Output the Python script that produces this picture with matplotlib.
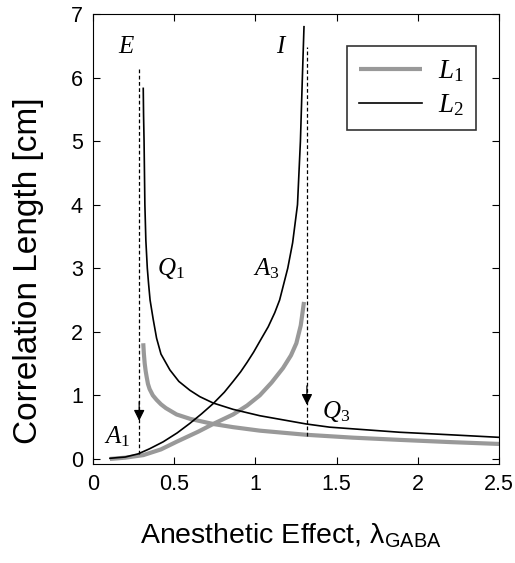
import matplotlib
matplotlib.use('Agg')
import matplotlib.pyplot as plt

plt.rcParams['font.family'] = 'Liberation Sans'
plt.rcParams['mathtext.fontset'] = 'custom'
plt.rcParams['mathtext.rm'] = 'Liberation Serif'
plt.rcParams['mathtext.it'] = 'Liberation Serif:italic'

# values
# L2 (black), branch starting at E, decreasing
l2_e_x = [0.311, 0.313, 0.316, 0.321, 0.327, 0.336, 0.344, 0.353, 0.372, 0.393,
          0.42, 0.475, 0.53, 0.598, 0.659, 0.741, 0.864, 1.028, 1.314, 1.458,
          1.888, 2.2, 2.5]
l2_e_y = [5.83, 5.4, 5.0, 4.0, 3.44, 3.0, 2.75, 2.5, 2.2, 1.9,
          1.65, 1.4, 1.22, 1.08, 0.98, 0.88, 0.78, 0.68, 0.55, 0.5,
          0.42, 0.38, 0.34]
# L1 (gray), branch starting at E, decreasing
l1_e_x = [0.311, 0.315, 0.32, 0.326, 0.332, 0.34, 0.35, 0.37, 0.393, 0.42,
          0.45, 0.516, 0.6, 0.741, 0.864, 1.028, 1.314, 1.6, 1.888, 2.2, 2.5]
l1_e_y = [1.82, 1.65, 1.5, 1.38, 1.29, 1.18, 1.1, 1.0, 0.93, 0.86,
          0.8, 0.7, 0.63, 0.55, 0.5, 0.445, 0.38, 0.335, 0.3, 0.265, 0.236]
# L2 (black), branch ending at I, increasing
l2_i_x = [0.106, 0.15, 0.2, 0.28, 0.35, 0.434, 0.52, 0.598, 0.67, 0.741,
          0.81, 0.864, 0.91, 0.95, 0.99, 1.028, 1.08, 1.12, 1.15, 1.2,
          1.23, 1.26, 1.278, 1.29, 1.30]
l2_i_y = [0.01, 0.02, 0.03, 0.08, 0.16, 0.27, 0.41, 0.56, 0.71, 0.87,
          1.05, 1.22, 1.37, 1.52, 1.68, 1.85, 2.08, 2.3, 2.5, 3.0,
          3.4, 4.0, 5.0, 6.0, 6.8]
# L1 (gray), branch ending at I, increasing
l1_i_x = [0.106, 0.2, 0.311, 0.42, 0.516, 0.65, 0.741, 0.864, 0.95, 1.028,
          1.1, 1.171, 1.22, 1.253, 1.28, 1.30]
l1_i_y = [0.0, 0.02, 0.06, 0.15, 0.27, 0.43, 0.55, 0.7, 0.84, 1.0,
          1.2, 1.43, 1.63, 1.82, 2.1, 2.47]

# dashed jump lines: x, top, bottom, arrow tip
jump_x = [0.286, 1.318]
jump_top = [6.14, 6.48]
jump_bottom = [0.07, 0.36]
jump_tip = [0.6, 0.85]

labels = ['$E$', '$I$', '$Q_1$', '$A_3$', '$A_1$', '$Q_3$']
label_x = [0.21, 1.16, 0.48, 1.07, 0.15, 1.5]
label_y = [6.5, 6.5, 3.0, 3.0, 0.35, 0.74]

gray = '#999999'

fig = plt.figure(figsize=(5.15, 5.63), dpi=100)
ax = fig.add_axes([0.18, 0.1758, 0.789, 0.7993])

ax.plot(l1_e_x, l1_e_y, color=gray, lw=3, label='$L_1$', solid_capstyle='butt')
ax.plot(l1_i_x, l1_i_y, color=gray, lw=3, solid_capstyle='butt')
ax.plot(l2_e_x, l2_e_y, color='k', lw=1.2, label='$L_2$')
ax.plot(l2_i_x, l2_i_y, color='k', lw=1.2)

for x, top, bot, tip in zip(jump_x, jump_top, jump_bottom, jump_tip):
    ax.plot([x, x], [bot, top], color='k', lw=0.9, ls=(0, (3, 2)))
    ax.annotate('', xy=(x, tip), xytext=(x, tip + 0.3),
                arrowprops=dict(arrowstyle='-|>', color='k', lw=0.9,
                                mutation_scale=16, shrinkA=0, shrinkB=0))

for t, x, y in zip(labels, label_x, label_y):
    ax.text(x, y, t, fontsize=18, ha='center', va='center')

ax.set_xlim(0, 2.5)
ax.set_ylim(-0.08, 7)
ax.set_xticks([0, 0.5, 1, 1.5, 2, 2.5])
ax.set_xticklabels(['0', '0.5', '1', '1.5', '2', '2.5'])
ax.set_yticks(range(8))
ax.tick_params(direction='in', top=True, right=True, labelsize=15.5, length=5, pad=7)

fig.text(140 / 515, 20 / 563, 'Anesthetic Effect, $\\mathregular{λ_{GABA}}$',
         fontsize=20.5, ha='left', va='baseline')
fig.text(29 / 515, 1 - 271 / 563, 'Correlation Length [cm]', fontsize=24,
         rotation=90, ha='center', va='center')

leg = ax.legend(loc='upper right', fontsize=19.5, frameon=True, fancybox=False,
                edgecolor='k', handlelength=2.3, handletextpad=0.6,
                borderpad=0.45, labelspacing=0.3, borderaxespad=0,
                bbox_to_anchor=(0.943, 0.929))
leg.get_frame().set_linewidth(1.2)

fig.savefig('out.png', dpi=100)
